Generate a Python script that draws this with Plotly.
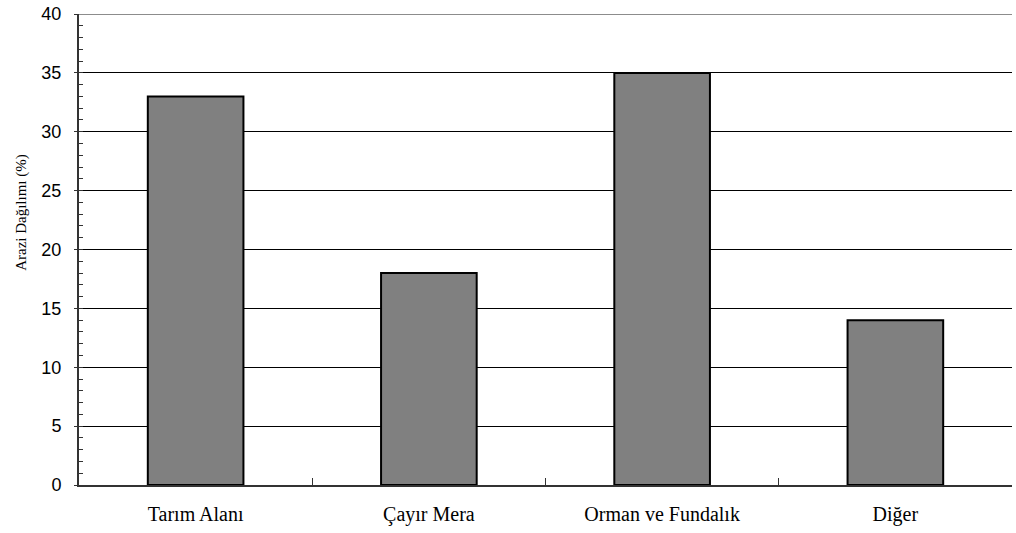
import plotly.graph_objects as go

categories = ["Tarım Alanı", "Çayır Mera", "Orman ve Fundalık", "Diğer"]
shares = [33, 18, 35, 14]
y_ticks = [0, 5, 10, 15, 20, 25, 30, 35, 40]
y_title = "Arazi Dağılımı (%)"

SERIF = "Liberation Serif, Times New Roman, serif"
SANS = "Liberation Sans, Arial, sans-serif"

fig = go.Figure(
    go.Bar(
        x=categories,
        y=shares,
        width=0.41,
        marker=dict(color="#808080", line=dict(color="#000000", width=2)),
    )
)

fig.update_layout(
    width=1016,
    height=533,
    margin=dict(l=79, r=4, t=11, b=48),
    paper_bgcolor="white",
    plot_bgcolor="white",
    showlegend=False,
    font=dict(family=SERIF, color="black"),
)

fig.update_xaxes(
    showline=True,
    linecolor="#333333",
    linewidth=2,
    ticks="inside",
    tickson="boundaries",
    ticklen=7,
    tickcolor="#333333",
    tickfont=dict(family=SERIF, size=20),
    ticklabelstandoff=10,
    showgrid=False,
)

fig.update_yaxes(
    range=[0, 40],
    tickvals=y_ticks,
    showline=True,
    linecolor="#333333",
    linewidth=2,
    ticks="outside",
    ticklen=3,
    tickcolor="#333333",
    tickfont=dict(family=SANS, size=18),
    ticklabelstandoff=9,
    showgrid=True,
    gridcolor="#000000",
    gridwidth=1,
    zeroline=False,
    minor=dict(ticks="inside", dtick=1, ticklen=4, tickcolor="#333333", showgrid=False),
)

# vertical axis title, set slightly above the plot centre
fig.add_annotation(
    text=y_title, xref="paper", yref="paper", x=-0.061, y=0.578,
    xanchor="center", yanchor="middle", textangle=-90, showarrow=False,
    font=dict(family=SERIF, size=15, color="black"),
)

# grey top frame line at 40
fig.add_shape(
    type="line", xref="paper", yref="y", x0=0, x1=1, y0=40, y1=40,
    line=dict(color="#8c8c8c", width=2),
)

fig.write_html("out.html")
